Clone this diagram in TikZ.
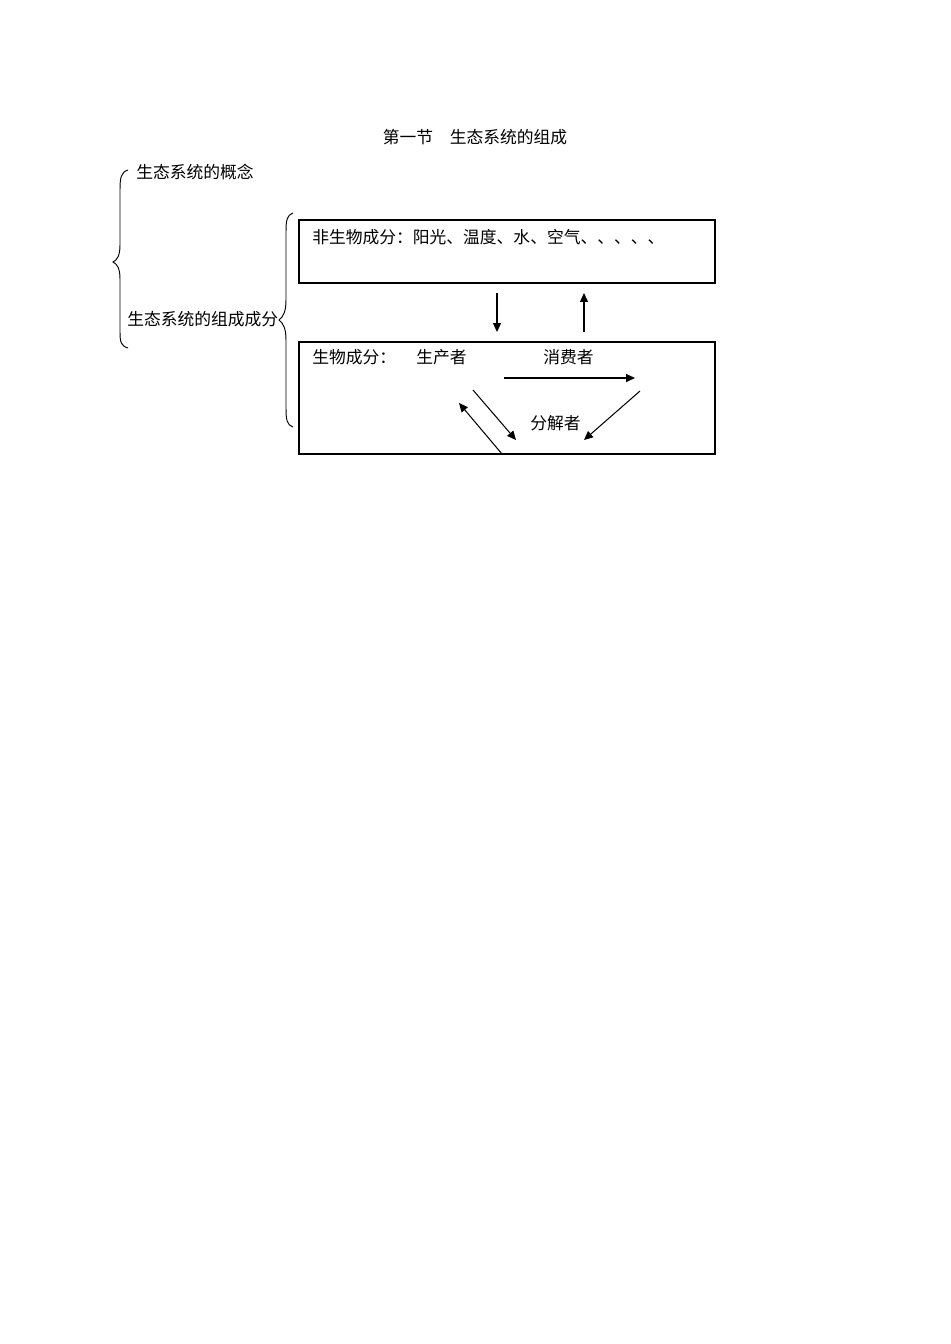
\documentclass[tikz,border=0pt]{standalone}
\usepackage{fontspec}
\setmainfont{Noto Sans CJK SC}
\usetikzlibrary{arrows.meta}
\begin{document}
\begin{tikzpicture}[x=0.62632pt,y=-0.62632pt,
  lbl/.style={anchor=west,inner sep=0pt,font=\fontsize{10.5pt}{12pt}\selectfont},
  boxframe/.style={draw,line width=0.8pt,inner sep=0pt,minimum width=260.55pt},
  arr/.style={line width=0.65pt,-{Triangle[length=5.6pt,width=5pt]}},
  brace/.style={line width=0.6pt}]
\useasboundingbox[fill=white] (0,0) rectangle (950,1344);
% title
\node[lbl,anchor=center] (title) at (475,137) {第一节\hspace{1em}生态系统的组成};
% left labels
\node[lbl] (concept) at (136,172) {生态系统的概念};
\node[lbl] (comp) at (127,319) {生态系统的组成成分};
% big brace
\draw[brace] (128,170) .. controls (121,172) and (120,178) .. (120,190)
  -- (120,245) .. controls (120,256) and (117,260) .. (113,262)
  .. controls (117,264) and (120,268) .. (120,279)
  -- (120,332) .. controls (120,342) and (121,346) .. (128,348);
% second brace
\draw[brace] (293,213) .. controls (287,215) and (286,220) .. (286,232)
  -- (286,300) .. controls (286,312) and (283,317) .. (279,320)
  .. controls (283,323) and (286,328) .. (286,340)
  -- (286,408) .. controls (286,420) and (287,425) .. (293,427);
% boxes
\node[boxframe,minimum height=39.46pt] (abio) at (507,251.5) {};
\node[boxframe,minimum height=70.15pt] (bio) at (507,398) {};
\node[lbl] (abiotxt) at (312,237) {非生物成分：阳光、温度、水、空气、、、、、};
\node[lbl] (biotxt) at (312,357) {生物成分：};
\node[lbl] (prod) at (416,357) {生产者};
\node[lbl] (cons) at (543,357) {消费者};
\node[lbl] (decomp) at (530,423) {分解者};
% arrow endpoints
\coordinate (d1) at (497,293); \coordinate (d2) at (497,332);
\coordinate (u1) at (584,332); \coordinate (u2) at (584,293);
\coordinate (h1) at (504,378); \coordinate (h2) at (635,378);
\coordinate (c1) at (640,391); \coordinate (c2) at (584,440);
\coordinate (p1) at (473,390); \coordinate (p2) at (516,440);
\coordinate (q1) at (502,454); \coordinate (q2) at (459,403);
\draw[arr] (d1) -- (d2);
\draw[arr] (u1) -- (u2);
\draw[arr,line width=0.9pt] (h1) -- (h2);
\draw[arr] (c1) -- (c2);
\draw[arr] (p1) -- (p2);
\draw[arr] (q1) -- (q2);
\end{tikzpicture}
\end{document}
